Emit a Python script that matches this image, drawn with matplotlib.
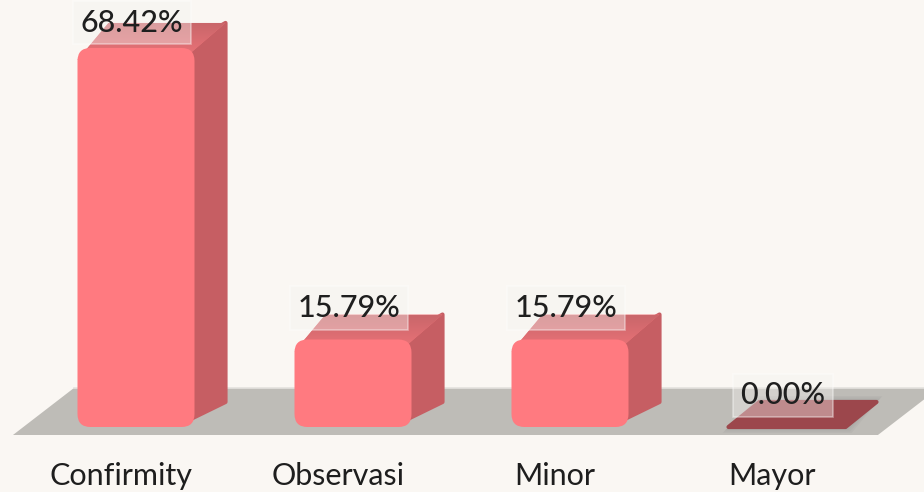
import matplotlib
matplotlib.use('Agg')
import matplotlib.pyplot as plt
from matplotlib.patches import Polygon, FancyBboxPatch
import numpy as np

categories = ['Confirmity', 'Observasi', 'Minor', 'Mayor']
values = [68.42, 15.79, 15.79, 0.00]
value_labels = ['68.42%', '15.79%', '15.79%', '0.00%']

BG = '#FAF7F3'
FRONT = '#FF7A80'
SIDE = '#C65E63'
TOP_BACK = '#C9666A'
TOP_FRONT = '#EE7479'
ZERO_TOP = '#9C474C'
FLOOR = '#BEBCB7'

W, H = 924, 492
fig = plt.figure(figsize=(9.24, 4.92), dpi=100)
fig.patch.set_facecolor(BG)
ax = fig.add_axes([0, 0, 1, 1])
ax.set_facecolor(BG)

px_x = 217.0   # pixels per category step
px_y = 5.54    # pixels per percent
x0 = 136.0     # pixel of first category centre
base = 492 - 427
ax.set_xlim(-x0 / px_x, (W - x0) / px_x)
ax.set_ylim(-base / px_y, (H - base) / px_y)
ax.axis('off')

dx = 31 / px_x
dy = 25 / px_y
w = 117 / px_x
n = len(categories)
xs = np.arange(n)

# floor
f_front = -8 / px_y
f_back = 39 / px_y
f_slant = 61 / px_x
fl = -0.567
fr = (n - 1) + 0.419
ax.add_patch(Polygon([(fl, f_front), (fr, f_front), (fr + f_slant, f_back), (fl + f_slant, f_back)],
                     closed=True, facecolor=FLOOR, edgecolor='none', zorder=1))
ax.plot([fl + f_slant, fr + f_slant], [f_back, f_back], color='#E4E2DE', lw=1.2, zorder=1.1)

asp = px_x / px_y
r = 13 / px_x
rx = 12 / px_x
ry = 12 / px_y

def grad_fill(poly, c1, c2, z):
    xy = np.array(poly.get_xy())
    x_min, x_max = xy[:, 0].min(), xy[:, 0].max()
    y_min, y_max = xy[:, 1].min(), xy[:, 1].max()
    a = np.array(matplotlib.colors.to_rgb(c1))
    b = np.array(matplotlib.colors.to_rgb(c2))
    t = np.linspace(0, 1, 64)[:, None]
    img = (b * (1 - t) + a * t)[:, None, :]
    im = ax.imshow(img, extent=[x_min, x_max, y_min, y_max], origin='lower',
                   aspect='auto', zorder=z, interpolation='bilinear')
    im.set_clip_path(poly)

for i, v in zip(xs, values):
    left = i - w / 2
    right = i + w / 2
    if v > 0:
        side = Polygon([(right - rx, 4 / px_y), (right + dx, dy), (right + dx, v + dy), (right - rx, v)],
                       closed=True, facecolor=SIDE, edgecolor=SIDE, lw=3, joinstyle='round', zorder=3)
        ax.add_patch(side)
        top = Polygon([(left, v - ry), (left + dx, v + dy), (right + dx, v + dy), (right - rx, v - ry)],
                      closed=True, facecolor=TOP_FRONT, edgecolor='none', zorder=3.1)
        ax.add_patch(top)
        grad_fill(top, TOP_BACK, TOP_FRONT, 3.2)
        front = FancyBboxPatch((left, 0), w, v, boxstyle=f"round,pad=0,rounding_size={r}",
                               mutation_aspect=asp, facecolor=FRONT, edgecolor='none', zorder=4)
        ax.add_patch(front)
    else:
        for k in range(4):
            off = (k + 1) * 1.5
            ax.add_patch(Polygon([(left - off / px_x, -off / px_y), (left + dx, dy + off / px_y),
                                  (right + dx + off / px_x, dy + off / px_y), (right + off / px_x, -off / px_y)],
                                 closed=True, facecolor='#555555', alpha=0.05, edgecolor='none', zorder=2))
        ax.add_patch(Polygon([(left, 0), (left + dx, dy), (right + dx, dy), (right, 0)],
                             closed=True, facecolor=ZERO_TOP, edgecolor=ZERO_TOP, lw=3,
                             joinstyle='round', zorder=3))

# data labels
box_half = 22.5 / px_y
ymax_lab = ax.get_ylim()[1] - box_half
for i, v, lab in zip(xs, values, value_labels):
    yl = min(v + 31.5 / px_y, ymax_lab)
    ax.text(i - 0.02, yl, lab, ha='center', va='center', fontsize=22, color='#1F1F1F',
            family='Lato', fontweight='medium', zorder=6,
            bbox=dict(boxstyle='square,pad=0.25', facecolor='#F4F2F0', alpha=0.4,
                      edgecolor='#FFFFFF', lw=1.2))

# category labels
for i, c in zip(xs, categories):
    ax.text(i - 0.07, -58 / px_y, c, ha='center', va='baseline', fontsize=22,
            color='#1E1E1E', family='Lato', zorder=6)

fig.savefig('out.png', dpi=100, facecolor=BG)
